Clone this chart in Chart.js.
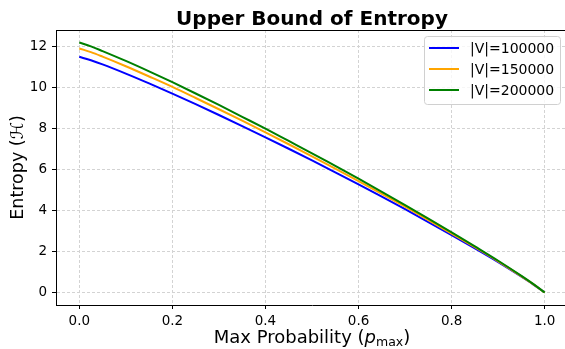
<!DOCTYPE html>
<html>
<head>
<meta charset="utf-8">
<script src="https://cdn.jsdelivr.net/npm/chart.js@4.4.1/dist/chart.umd.min.js"></script>
<style>
  html,body{margin:0;padding:0;background:#fff;overflow:hidden;}
  #wrap{width:570px;height:349px;position:relative;}
</style>
</head>
<body>
<div id="wrap"><canvas id="c"></canvas></div>
<script>
// values
const pMax = [0,0.025,0.05,0.1,0.15,0.2,0.25,0.3,0.35,0.4,0.45,0.5,0.55,0.6,0.65,0.7,0.75,0.8,0.85,0.9,0.95,0.975,1.0];
const ent100k = [11.51,11.34,11.14,10.69,10.21,9.71,9.20,8.67,8.13,7.58,7.02,6.45,5.87,5.28,4.68,4.07,3.44,2.80,2.15,1.48,0.77,0.40,0];
const ent150k = [11.92,11.74,11.52,11.05,10.55,10.04,9.50,8.95,8.39,7.82,7.24,6.65,6.05,5.44,4.82,4.19,3.54,2.88,2.21,1.52,0.79,0.41,0];
const ent200k = [12.21,12.02,11.79,11.31,10.80,10.27,9.72,9.16,8.58,8.00,7.40,6.80,6.18,5.56,4.92,4.27,3.61,2.94,2.25,1.55,0.81,0.42,0];
const seriesNames = ["|V|=100000","|V|=150000","|V|=200000"];
const seriesColors = ["#0000ff","#ffa500","#008000"];
const xTicks = [0,0.2,0.4,0.6,0.8,1.0];
const yTicks = [0,2,4,6,8,10,12];

const FONT = "DejaVu Sans";
const pts = ys => pMax.map((x,i)=>({x, y: ys[i]}));

// extra drawing: title, top spine, axis titles, legend
const decor = {
  id: "decor",
  afterDraw(chart){
    const {ctx, chartArea:a} = chart;
    const cx = (a.left + a.right)/2;
    ctx.save();
    // top spine
    ctx.setLineDash([]);
    ctx.strokeStyle = "#000"; ctx.lineWidth = 1;
    ctx.beginPath(); ctx.moveTo(a.left, a.top+0.5); ctx.lineTo(a.right, a.top+0.5); ctx.stroke();

    ctx.fillStyle = "#000";
    ctx.textAlign = "center"; ctx.textBaseline = "alphabetic";
    ctx.font = `bold 20px "${FONT}"`;
    ctx.fillText("Upper Bound of Entropy", cx, 25);

    // y title
    ctx.save();
    ctx.translate(23, (a.top + a.bottom)/2);
    ctx.rotate(-Math.PI/2);
    ctx.font = `17.5px "${FONT}"`;
    ctx.fillText("Entropy (ℋ)", 0, 0);
    ctx.restore();

    // x title with subscript
    const parts = [
      {t:"Max Probability (", f:`18px "${FONT}"`, dy:0},
      {t:"p", f:`italic 18px "${FONT}"`, dy:0},
      {t:"max", f:`12.5px "${FONT}"`, dy:3},
      {t:")", f:`18px "${FONT}"`, dy:0}
    ];
    let w = 0;
    parts.forEach(p=>{ ctx.font = p.f; p.w = ctx.measureText(p.t).width; w += p.w; });
    let x = cx - w/2;
    ctx.textAlign = "left";
    parts.forEach(p=>{ ctx.font = p.f; ctx.fillText(p.t, x, 343 + p.dy); x += p.w; });

    // legend
    const lx = 424, ly = 36, lw = 136, lh = 68;
    ctx.fillStyle = "rgba(255,255,255,0.8)";
    ctx.strokeStyle = "#d0d0d0";
    ctx.beginPath();
    ctx.roundRect(lx+0.5, ly+0.5, lw, lh, 3);
    ctx.fill(); ctx.stroke();
    ctx.font = `14px "${FONT}"`;
    ctx.textBaseline = "middle";
    seriesNames.forEach((n,i)=>{
      const yy = ly + 12 + i*21;
      ctx.strokeStyle = seriesColors[i]; ctx.lineWidth = 2;
      ctx.beginPath(); ctx.moveTo(429, yy); ctx.lineTo(459, yy); ctx.stroke();
      ctx.fillStyle = "#000";
      ctx.fillText(n, 470, yy+1);
    });
    ctx.restore();
  }
};

const gridOpts = {color: "#d3d3d3", tickColor: "#000", tickBorderDash: [], tickLength: 4};
const borderOpts = {display: true, color: "#000", width: 1, dash: [3,2]};

new Chart(document.getElementById("c"), {
  type: "line",
  data: {
    datasets: [
      {label: seriesNames[0], data: pts(ent100k), borderColor: seriesColors[0], order: 2},
      {label: seriesNames[1], data: pts(ent150k), borderColor: seriesColors[1], order: 1},
      {label: seriesNames[2], data: pts(ent200k), borderColor: seriesColors[2], order: 0}
    ].map(d=>Object.assign(d, {borderWidth: 2, pointRadius: 0, fill: false, cubicInterpolationMode: "monotone"}))
  },
  options: {
    responsive: true, maintainAspectRatio: false, animation: false,
    layout: {padding: {left: 0, right: 2, top: 30, bottom: 0}},
    plugins: {legend: {display: false}, tooltip: {enabled: false}},
    scales: {
      x: {
        type: "linear", min: -0.05, max: 1.05,
        afterBuildTicks: s => { s.ticks = xTicks.map(v=>({value: v})); },
        afterFit: s => { s.height = 44; },
        grid: gridOpts,
        border: borderOpts,
        ticks: {color: "#000", font: {family: FONT, size: 13.5}, padding: 4, maxRotation: 0,
          callback: v => v.toFixed(1)}
      },
      y: {
        type: "linear", min: -0.61, max: 12.82,
        afterBuildTicks: s => { s.ticks = yTicks.map(v=>({value: v})); },
        afterFit: s => { s.width = 56; },
        grid: gridOpts,
        border: borderOpts,
        ticks: {color: "#000", font: {family: FONT, size: 13.5}, padding: 5,
          callback: v => String(v)}
      }
    }
  },
  plugins: [decor]
});
</script>
</body>
</html>
